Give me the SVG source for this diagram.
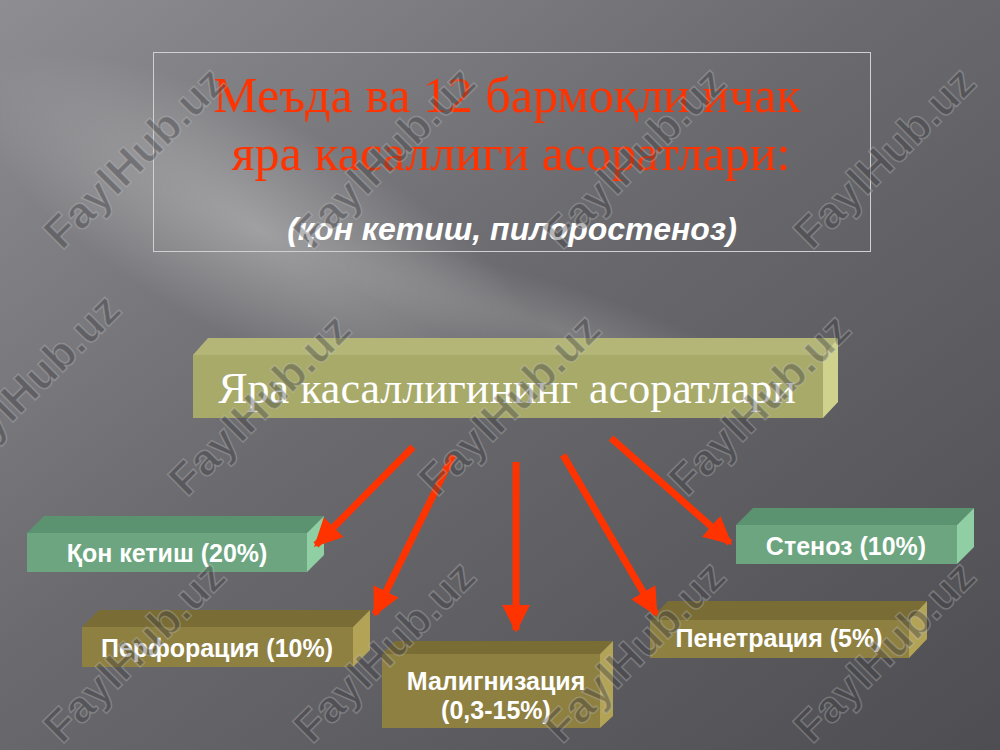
<svg xmlns="http://www.w3.org/2000/svg" width="1000" height="750" viewBox="0 0 1000 750">
<defs>
<linearGradient id="bg" x1="0" y1="0" x2="1" y2="1">
<stop offset="0" stop-color="#8e8e92"/>
<stop offset="0.45" stop-color="#6a6a6e"/>
<stop offset="1" stop-color="#4e4e52"/>
</linearGradient>
<radialGradient id="glow" cx="0.5" cy="0.5" r="0.5">
<stop offset="0" stop-color="#ffffff" stop-opacity="0.3"/>
<stop offset="1" stop-color="#ffffff" stop-opacity="0"/>
</radialGradient>
<marker id="ah" viewBox="0 0 10 10" refX="9" refY="5" markerWidth="4" markerHeight="4.2" orient="auto" markerUnits="strokeWidth">
<path d="M0,0 L10,5 L0,10 Z" fill="#ff3300"/>
</marker>
<style>
.title{font-family:"Liberation Serif","Times New Roman",serif;font-size:50px;fill:#ff3300;text-anchor:middle}
.sub{font-family:"Liberation Sans",Arial,sans-serif;font-size:32px;font-weight:bold;font-style:italic;fill:#ffffff;text-anchor:middle}
.main{font-family:"Liberation Serif","Times New Roman",serif;font-size:44px;fill:#ffffff;text-anchor:middle}
.lbl{font-family:"Liberation Sans",Arial,sans-serif;font-size:25px;font-weight:bold;fill:#ffffff;text-anchor:middle}
.gF{fill:#6ca57f}.gT{fill:#5b9270}.gR{fill:#90cfa3}
.oF{fill:#8e8041}.oT{fill:#796c34}.oR{fill:#b3a357}
.conn{stroke:#ff3300;stroke-width:7;fill:none;marker-end:url(#ah)}
.wm{font-family:"Liberation Sans",Arial,sans-serif;font-size:44px;font-weight:bold;fill:#3a3a3e;fill-opacity:0.4;stroke:#d8d8d8;stroke-opacity:0.3;stroke-width:1.5;text-anchor:middle}
</style>
</defs>
<rect width="1000" height="750" fill="url(#bg)"/>
<ellipse cx="260" cy="230" rx="320" ry="110" transform="rotate(28 260 230)" fill="url(#glow)"/>
<ellipse cx="560" cy="330" rx="260" ry="45" transform="rotate(18 560 330)" fill="url(#glow)" opacity="0.5"/>

<g id="title">
<rect x="153.5" y="52.5" width="717" height="199" fill="none" stroke="#d0d0d0" stroke-width="1"/>
<text class="title" x="507" y="112">Меъда ва 12 бармоқли ичак</text>
<text class="title" x="511" y="170">яра касаллиги асоратлари:</text>
<text class="sub" x="512" y="240">(қон кетиш, пилоростеноз)</text>
</g>

<g id="main">
<polygon points="193,355 208,338 838,338 823,355" fill="#b3b676"/>
<polygon points="823,355 838,338 838,402 823,418" fill="#cfd28c"/>
<rect x="193" y="355" width="630" height="63" fill="#a8aa6a"/>
<text class="main" x="507" y="403">Яра касаллигининг асоратлари</text>
</g>

<g id="n1">
<polygon class="gT" points="27,533 44,516 324,516 307,533"/>
<polygon class="gR" points="307,533 324,516 324,555 307,572"/>
<rect class="gF" x="27" y="533" width="280" height="39"/>
<text class="lbl" x="167" y="562">Қон кетиш (20%)</text>
</g>

<g id="n2">
<polygon class="oT" points="82,627 99,610 370,610 353,627"/>
<polygon class="oR" points="353,627 370,610 370,650 353,667"/>
<rect class="oF" x="82" y="627" width="271" height="40"/>
<text class="lbl" x="217" y="657">Перфорация (10%)</text>
</g>

<g id="n3">
<polygon class="oT" points="382,654 395,641 613,641 600,654"/>
<polygon class="oR" points="600,654 613,641 613,716 600,728"/>
<rect class="oF" x="382" y="654" width="218" height="74"/>
<text class="lbl" x="496" y="690">Малигнизация</text>
<text class="lbl" x="496" y="719">(0,3-15%)</text>
</g>

<g id="n4">
<polygon class="oT" points="650,620 668,601 927,601 909,620"/>
<polygon class="oR" points="909,620 927,601 927,639 909,658"/>
<rect class="oF" x="650" y="620" width="259" height="38"/>
<text class="lbl" x="779" y="647">Пенетрация (5%)</text>
</g>

<g id="n5">
<polygon class="gT" points="736,525 753,508 974,508 957,525"/>
<polygon class="gR" points="957,525 974,508 974,547 957,564"/>
<rect class="gF" x="736" y="525" width="221" height="39"/>
<text class="lbl" x="846" y="555">Стеноз (10%)</text>
</g>

<g id="connectors">
<line class="conn" x1="413" y1="447" x2="316" y2="545"/>
<line class="conn" x1="453" y1="455" x2="375" y2="614"/>
<line class="conn" x1="516" y1="462" x2="516" y2="630"/>
<line class="conn" x1="563" y1="455" x2="656" y2="614"/>
<line class="conn" x1="611" y1="438" x2="730" y2="543"/>
</g>

<g id="watermarks">
<text class="wm" transform="translate(145,168) rotate(-45)">FaylHub.uz</text>
<text class="wm" transform="translate(395,168) rotate(-45)">FaylHub.uz</text>
<text class="wm" transform="translate(645,168) rotate(-45)">FaylHub.uz</text>
<text class="wm" transform="translate(895,168) rotate(-45)">FaylHub.uz</text>
<text class="wm" transform="translate(40,395) rotate(-45)">FaylHub.uz</text>
<text class="wm" transform="translate(270,415) rotate(-45)">FaylHub.uz</text>
<text class="wm" transform="translate(520,415) rotate(-45)">FaylHub.uz</text>
<text class="wm" transform="translate(770,415) rotate(-45)">FaylHub.uz</text>
<text class="wm" transform="translate(145,662) rotate(-45)">FaylHub.uz</text>
<text class="wm" transform="translate(395,662) rotate(-45)">FaylHub.uz</text>
<text class="wm" transform="translate(645,662) rotate(-45)">FaylHub.uz</text>
<text class="wm" transform="translate(895,662) rotate(-45)">FaylHub.uz</text>
</g>
</svg>
